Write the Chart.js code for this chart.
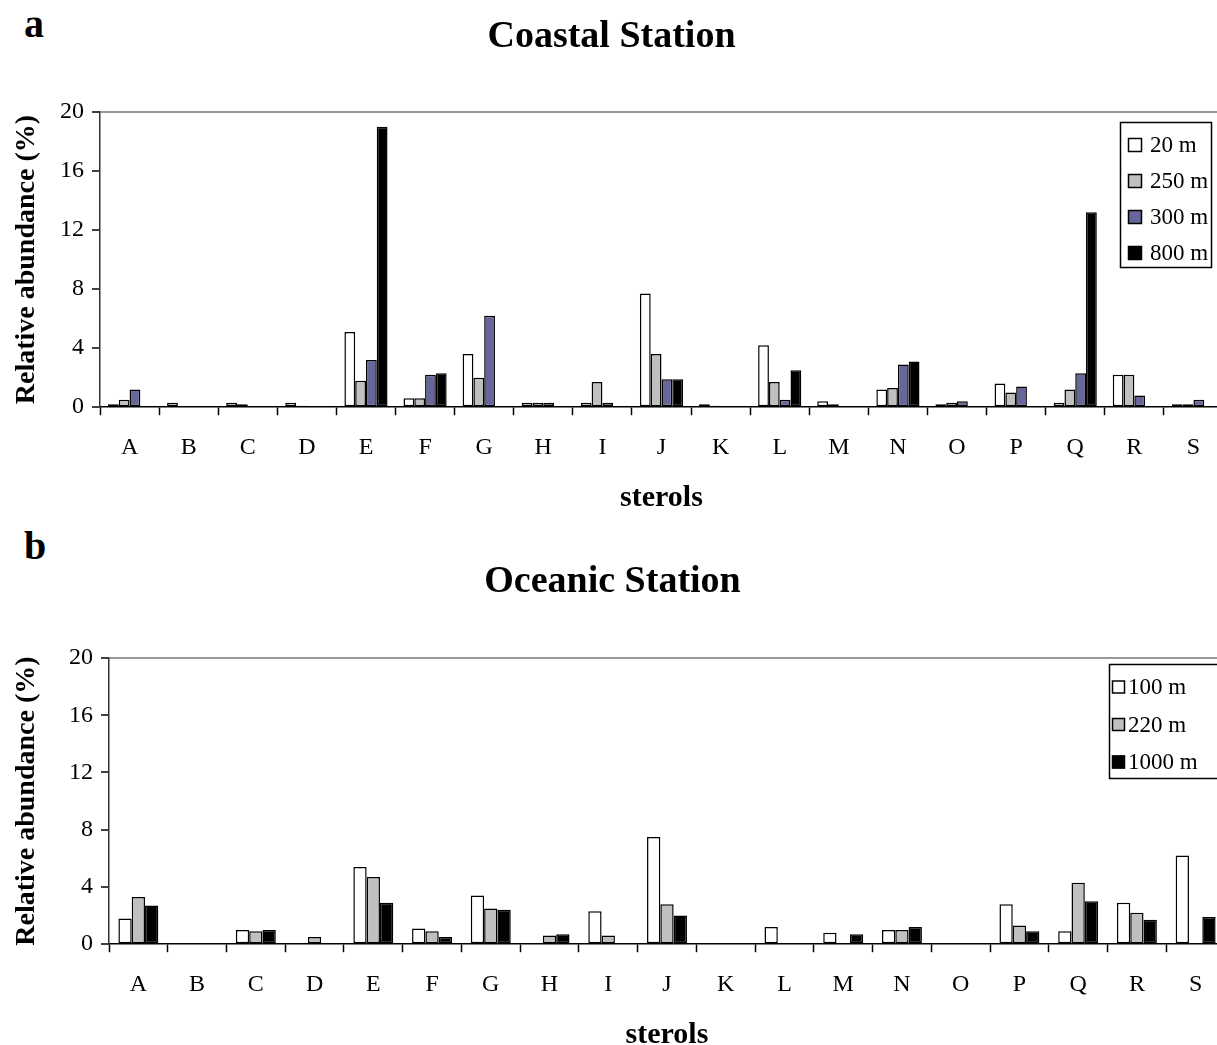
<!DOCTYPE html>
<html><head><meta charset="utf-8">
<script src="https://cdn.jsdelivr.net/npm/chart.js@4/dist/chart.umd.min.js"></script>
<style>
html,body{margin:0;padding:0;background:#fff;overflow:hidden;width:1217px;height:1045px;position:relative;}
.wrap{position:absolute;left:0;width:1240px;height:520px;}
.lbl{position:absolute;left:24px;font:bold 40px 'Liberation Serif','Times New Roman',serif;color:#000;line-height:1;}
</style></head><body>
<div class="lbl" style="top:4px">a</div>
<div class="wrap" style="top:0"><canvas id="c1" width="1240" height="520"></canvas></div>
<div class="lbl" style="top:526px">b</div>
<div class="wrap" style="top:545px"><canvas id="c2" width="1240" height="520"></canvas></div>
<script>
const SERIF = "'Liberation Serif','Times New Roman',serif";

// ---- data ----
const categories = ['A','B','C','D','E','F','G','H','I','J','K','L','M','N','O','P','Q','R','S'];

const coastalLabels = ['20 m','250 m','300 m','800 m'];
const coastal20  = [0.2,0.3,0.3,0.3,5.1,0.6,3.6,0.3,0.3,7.7,0.2,4.2,0.4,1.2,0.2,1.6,0.3,2.2,0.2];
const coastal250 = [0.5,0,0.2,0.1,1.8,0.6,2.0,0.3,1.7,3.6,0.1,1.7,0.2,1.3,0.3,1.0,1.2,2.2,0.2];
const coastal300 = [1.2,0,0,0,3.2,2.2,6.2,0.3,0.3,1.9,0,0.5,0,2.9,0.4,1.4,2.3,0.8,0.5];
const coastal800 = [0,0,0,0,19.0,2.3,0,0,0,1.9,0,2.5,0,3.1,0,0,13.2,0,0];

const oceanicLabels = ['100 m','220 m','1000 m'];
const oceanic100  = [1.8,0,1.0,0,5.4,1.1,3.4,0,2.3,7.5,0,1.2,0.8,1.0,0,2.8,0.9,2.9,6.2];
const oceanic220  = [3.3,0,0.9,0.5,4.7,0.9,2.5,0.6,0.6,2.8,0,0,0,1.0,0,1.3,4.3,2.2,0];
const oceanic1000 = [2.7,0,1.0,0,2.9,0.5,2.4,0.7,0,2.0,0,0,0.7,1.2,0,0.9,3.0,1.7,1.9];

const yTicks = [0,4,8,12,16,20];
const yTitle = 'Relative abundance (%)';
const xTitle = 'sterols';

const colWhite = '#ffffff', colGray = '#c0c0c0', colBlue = '#666699', colBlack = '#000000';

// ---- legend box plugin ----
const boxLegendPlugin = {
  id: 'boxLegend',
  afterDraw(chart, args, o) {
    const ctx = chart.ctx;
    ctx.save();
    ctx.fillStyle = '#fff';
    ctx.fillRect(o.x, o.y, o.w, o.h);
    ctx.strokeStyle = '#000';
    ctx.lineWidth = 1.5;
    ctx.strokeRect(o.x + 0.5, o.y + 0.5, o.w, o.h);
    ctx.font = o.size + 'px ' + SERIF;
    ctx.textBaseline = 'middle';
    ctx.textAlign = 'left';
    chart.data.datasets.forEach((d, i) => {
      const cy = o.y + o.first + i * o.gap;
      ctx.fillStyle = d.backgroundColor;
      ctx.fillRect(o.sx, cy - o.sq / 2, o.sq, o.sq);
      ctx.lineWidth = 1.5;
      ctx.strokeStyle = '#000';
      ctx.strokeRect(o.sx + 0.5, cy - o.sq / 2 + 0.5, o.sq - 1, o.sq - 1);
      ctx.fillStyle = '#000';
      ctx.fillText(d.label, o.tx, cy + 1);
    });
    ctx.restore();
  }
};

function makeChart(id, title, labels, series, colors, opt) {
  const datasets = series.map((s, i) => ({
    label: labels[i],
    data: s,
    backgroundColor: colors[i],
    borderColor: '#000',
    borderWidth: c => (c.raw ? 1.5 : 0),
    borderSkipped: false,
    categoryPercentage: opt.catPct,
    barPercentage: 1
  }));
  return new Chart(document.getElementById(id), {
    type: 'bar',
    data: { labels: categories, datasets },
    options: {
      responsive: false,
      animation: false,
      events: [],
      layout: { padding: { left: 0, right: opt.padRight, top: 0, bottom: opt.padBottom } },
      plugins: {
        legend: { display: false },
        tooltip: { enabled: false },
        title: {
          display: true, text: title, color: '#000',
          font: { family: SERIF, size: 38, weight: 'bold' },
          padding: { top: 14, bottom: opt.titleBottom }
        },
        boxLegend: opt.legend
      },
      scales: {
        x: {
          grid: { display: true, offset: true, drawOnChartArea: false, tickLength: 8, tickColor: '#000', tickWidth: 1.5 },
          border: { color: '#000', width: 1.5 },
          ticks: { font: { family: SERIF, size: 24 }, color: '#000', padding: 18 },
          title: { display: true, text: xTitle, color: '#000', font: { family: SERIF, size: 30, weight: 'bold' }, padding: { top: 0, bottom: 0 } }
        },
        y: {
          min: 0, max: 20,
          afterFit: s => { s.width = opt.yWidth; },
          afterBuildTicks: s => { s.ticks = yTicks.map(v => ({ value: v })); },
          ticks: { font: { family: SERIF, size: 24 }, color: '#000', padding: 8 },
          grid: {
            drawOnChartArea: true,
            color: c => (c.tick && c.tick.value === 20 ? '#999999' : 'rgba(0,0,0,0)'),
            lineWidth: 2,
            tickColor: '#000', tickLength: 8, tickWidth: 1.5
          },
          border: { color: '#333', width: 1.5 },
          title: { display: true, text: yTitle, color: '#000', font: { family: SERIF, size: 28, weight: 'bold' }, padding: { top: 10, bottom: 0 } }
        }
      }
    },
    plugins: [boxLegendPlugin]
  });
}

makeChart('c1', 'Coastal Station', coastalLabels,
  [coastal20, coastal250, coastal300, coastal800],
  [colWhite, colGray, colBlue, colBlack],
  { catPct: 0.73, padRight: 17, padBottom: 4, titleBottom: 52.4, yWidth: 100,
    legend: { x: 1120, y: 122, w: 91, h: 145, first: 23, gap: 36, sx: 1128, sq: 14, tx: 1150, size: 23 } });

makeChart('c2', 'Oceanic Station', oceanicLabels,
  [oceanic100, oceanic220, oceanic1000],
  [colWhite, colGray, colBlack],
  { catPct: 0.68, padRight: 15, padBottom: 12, titleBottom: 53.4, yWidth: 109,
    legend: { x: 1109, y: 119, w: 120, h: 114, first: 23, gap: 37.5, sx: 1112, sq: 13, tx: 1128, size: 23 } });
</script>
</body></html>
